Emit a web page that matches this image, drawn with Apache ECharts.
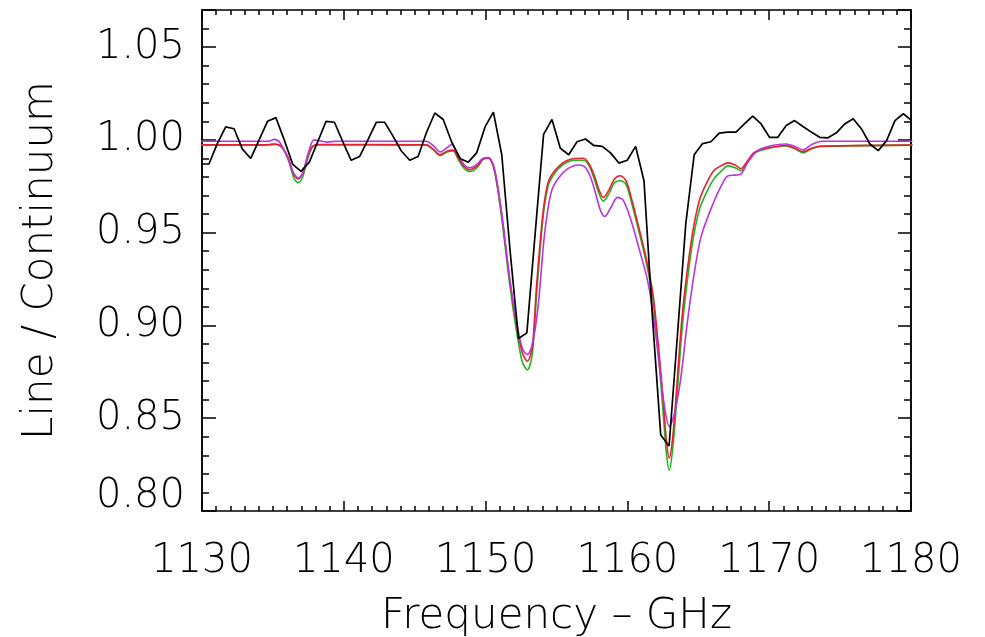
<!DOCTYPE html>
<html>
<head>
<meta charset="utf-8">
<script src="https://cdn.jsdelivr.net/npm/echarts@6/dist/echarts.min.js"></script>
<style>
  html, body { margin: 0; padding: 0; background: #fff; }
  #spectrum_chart { width: 985px; height: 637px; }
</style>
</head>
<body>
<div id="spectrum_chart"></div>
<script>
// x tick labels (GHz) and y tick labels
var xTicks = [1130, 1140, 1150, 1160, 1170, 1180]
var yTicks = [0.80, 0.85, 0.90, 0.95, 1.00, 1.05]

// observed spectrum (black)
var obsFreq = [1129.90, 1130.49, 1131.08, 1131.67, 1132.26, 1132.85, 1133.44, 1134.03, 1134.62, 1135.21,
    1135.80, 1136.39, 1136.98, 1137.57, 1138.16, 1138.75, 1139.34, 1139.93, 1140.52, 1141.11,
    1141.70, 1142.29, 1142.88, 1143.47, 1144.06, 1144.65, 1145.24, 1145.83, 1146.42, 1147.01,
    1147.60, 1148.19, 1148.78, 1149.37, 1149.96, 1150.55, 1151.14, 1151.73, 1152.32, 1152.91,
    1153.50, 1154.09, 1154.68, 1155.27, 1155.86, 1156.45, 1157.04, 1157.63, 1158.22, 1158.81,
    1159.40, 1159.99, 1160.58, 1161.17, 1161.76, 1162.35, 1162.94, 1163.53, 1164.12, 1164.71,
    1165.30, 1165.89, 1166.48, 1167.07, 1167.66, 1168.25, 1168.84, 1169.43, 1170.02, 1170.61,
    1171.20, 1171.79, 1172.38, 1172.97, 1173.56, 1174.15, 1174.74, 1175.33, 1175.92, 1176.51,
    1177.10, 1177.69, 1178.28, 1178.87, 1179.46, 1180.05]
var obsVal = [0.987, 0.987, 0.998, 1.007, 1.006, 0.995, 0.990, 1.000, 1.010, 1.012,
    1.000, 0.987, 0.983, 0.988, 0.999, 1.010, 1.0095, 0.999, 0.989, 0.991,
    1.000, 1.0095, 1.0095, 1.002, 0.994, 0.989, 0.991, 1.004, 1.0145, 1.011,
    0.999, 0.990, 0.988, 0.993, 1.007, 1.015, 0.992, 0.940, 0.893, 0.896,
    0.950, 1.003, 1.011, 0.9955, 0.992, 0.999, 1.0005, 0.997, 0.9965, 0.993,
    0.9875, 0.989, 0.9965, 0.978, 0.905, 0.841, 0.835, 0.895, 0.955, 0.992,
    0.998, 0.999, 1.0036, 1.0042, 1.0042, 1.0086, 1.0128, 1.0086, 1.0014, 1.0014,
    1.0077, 1.0104, 1.0072, 1.0042, 1.0014, 1.0011, 1.0038, 1.0086, 1.0114, 1.0059,
    0.9978, 0.9942, 0.9996, 1.0104, 1.0141, 1.0104]

// model 1 (red)
var redFreq = [1129.9, 1134.5, 1135.1, 1135.6, 1136.1, 1136.5, 1136.8, 1137.1, 1137.5, 1137.8,
    1138.2, 1145.8, 1146.3, 1146.8, 1147.3, 1147.7, 1148.1, 1148.5, 1148.9, 1149.4,
    1149.8, 1150.2, 1150.6, 1151.1, 1151.7, 1152.2, 1152.6, 1152.95, 1153.3, 1153.6,
    1154.05, 1154.4, 1154.7, 1155.2, 1155.7, 1156.3, 1156.9, 1157.3, 1157.7, 1158.0,
    1158.3, 1158.7, 1159.1, 1159.5, 1159.9, 1160.3, 1160.7, 1161.3, 1161.8, 1162.2,
    1162.5, 1162.75, 1162.95, 1163.2, 1163.5, 1163.8, 1164.1, 1164.6, 1165.1, 1165.6,
    1166.1, 1166.6, 1167.1, 1167.6, 1168.0, 1168.4, 1168.9, 1169.4, 1170.3, 1171.2,
    1171.8, 1172.4, 1173.0, 1173.6, 1180.1]
var redVal = [0.9973, 0.9973, 0.9978, 0.9965, 0.990, 0.981, 0.979, 0.982, 0.992, 0.9965,
    0.9975, 0.9973, 0.995, 0.992, 0.994, 0.9945, 0.990, 0.9855, 0.984, 0.986,
    0.9895, 0.9903, 0.985, 0.962, 0.925, 0.8996, 0.885, 0.8807, 0.889, 0.922,
    0.961, 0.977, 0.9816, 0.986, 0.9888, 0.990, 0.9901, 0.987, 0.980, 0.973,
    0.969, 0.973, 0.979, 0.9807, 0.978, 0.968, 0.956, 0.937, 0.917, 0.888,
    0.862, 0.838, 0.8285, 0.840, 0.869, 0.900, 0.922, 0.950, 0.968, 0.977,
    0.9835, 0.986, 0.9876, 0.9865, 0.9845, 0.988, 0.993, 0.9948, 0.9962, 0.997,
    0.9955, 0.9937, 0.9955, 0.9966, 0.9972]

// model 2 (green)
var greenFreq = redFreq
var greenVal = [0.9973, 0.9973, 0.9976, 0.9962, 0.989, 0.979, 0.977, 0.980, 0.991, 0.9962,
    0.9973, 0.9973, 0.9948, 0.9915, 0.9935, 0.994, 0.989, 0.9845, 0.983, 0.985,
    0.9893, 0.9901, 0.984, 0.960, 0.922, 0.896, 0.880, 0.876, 0.885, 0.917,
    0.958, 0.975, 0.980, 0.985, 0.9878, 0.989, 0.989, 0.986, 0.978, 0.971,
    0.967, 0.971, 0.977, 0.978, 0.976, 0.966, 0.954, 0.935, 0.914, 0.883,
    0.855, 0.831, 0.822, 0.834, 0.862, 0.893, 0.916, 0.945, 0.963, 0.972,
    0.979, 0.983, 0.986, 0.985, 0.9834, 0.987, 0.9925, 0.9943, 0.996, 0.9968,
    0.9952, 0.993, 0.9952, 0.9965, 0.9972]

// model 3 (magenta)
var magFreq = [1129.9, 1134.7, 1135.1, 1135.5, 1136.0, 1136.4, 1136.8, 1137.1, 1137.5, 1137.9,
    1138.3, 1138.8, 1139.5, 1145.8, 1146.3, 1146.8, 1147.3, 1147.6, 1148.0, 1148.5,
    1148.9, 1149.4, 1149.8, 1150.2, 1150.6, 1151.1, 1151.7, 1152.2, 1152.6, 1152.95,
    1153.3, 1153.7, 1154.1, 1154.4, 1154.7, 1155.2, 1155.8, 1156.5, 1157.0, 1157.4,
    1157.8, 1158.1, 1158.4, 1158.8, 1159.3, 1159.7, 1160.2, 1160.9, 1161.4, 1161.8,
    1162.2, 1162.6, 1162.95, 1163.3, 1163.75, 1164.2, 1164.65, 1165.2, 1166.06, 1166.6,
    1167.1, 1167.6, 1168.0, 1168.5, 1169.2, 1170.2, 1171.2, 1171.8, 1172.4, 1173.0,
    1173.7, 1180.1]
var magVal = [0.9993, 0.9993, 1.0003, 0.9985, 0.991, 0.983, 0.9795, 0.982, 0.993, 1.000,
    0.9995, 0.9988, 0.9993, 0.9993, 0.997, 0.9935, 0.996, 0.9975, 0.993, 0.9865,
    0.985, 0.987, 0.990, 0.9905, 0.985, 0.962, 0.925, 0.901, 0.8875, 0.8843,
    0.890, 0.910, 0.945, 0.963, 0.9735, 0.980, 0.9845, 0.9865, 0.9855, 0.980,
    0.970, 0.962, 0.9587, 0.963, 0.969, 0.9675, 0.958, 0.9393, 0.925, 0.907,
    0.882, 0.857, 0.8456, 0.852, 0.8708, 0.900, 0.925, 0.948, 0.966, 0.975,
    0.9807, 0.981, 0.9815, 0.988, 0.9943, 0.997, 0.9978, 0.9965, 0.9946, 0.9975,
    0.9993, 0.9993]

function zip(xs, ys) {
    return xs.map(function (x, i) { return [x, ys[i]] })
}

var labelFont = {
    fontFamily: 'DejaVu Sans',
    fontWeight: 200,
    color: '#000'
}

function getSpectrumChart() {
    var dom = document.getElementById('spectrum_chart')
    var instance = echarts.init(dom, null, {renderer: 'canvas'})

    var axisLine = {show: true, onZero: false, lineStyle: {color: '#000', width: 1.5}}

    let option = {
        animation: false,
        backgroundColor: '#fff',
        grid: {
            left: 202,
            right: 74,
            top: 10,
            bottom: 126,
            containLabel: false,
            outerBoundsMode: 'none'
        },
        xAxis: [
            {
                type: 'value',
                position: 'bottom',
                min: xTicks[0],
                max: xTicks[xTicks.length - 1],
                interval: 10,
                axisLine: axisLine,
                axisTick: {show: true, inside: true, length: 10, lineStyle: {color: '#000', width: 1.5}},
                minorTick: {show: true, splitNumber: 10, length: 5, lineStyle: {color: '#000', width: 1.5}},
                splitLine: {show: false},
                axisLabel: Object.assign({
                    fontSize: 40,
                    margin: 31,
                    formatter: function (v) { return String(v) }
                }, labelFont),
                name: 'Frequency – GHz',
                nameLocation: 'middle',
                nameGap: 85,
                nameTextStyle: Object.assign({fontSize: 42}, labelFont)
            },
            {
                type: 'value',
                position: 'top',
                min: xTicks[0],
                max: xTicks[xTicks.length - 1],
                interval: 10,
                axisLine: axisLine,
                axisTick: {show: true, inside: true, length: 10, lineStyle: {color: '#000', width: 1.5}},
                minorTick: {show: true, splitNumber: 10, length: 5, lineStyle: {color: '#000', width: 1.5}},
                splitLine: {show: false},
                axisLabel: {show: false}
            }
        ],
        yAxis: [
            {
                type: 'value',
                position: 'left',
                min: 0.80,
                max: 1.07,
                interval: 0.05,
                axisLine: axisLine,
                axisTick: {show: true, inside: true, length: 14, lineStyle: {color: '#000', width: 1.5}},
                splitLine: {show: false},
                axisLabel: Object.assign({
                    fontSize: 40,
                    margin: 17,
                    showMinLabel: true,
                    formatter: function (v) {
                        if (v > 1.06) return ''
                        if (v < 0.81) return '{m|' + v.toFixed(2) + '}'
                        return v.toFixed(2)
                    },
                    rich: {
                        m: Object.assign({fontSize: 40, padding: [0, 0, 28, 0]}, labelFont)
                    }
                }, labelFont),
                name: 'Line / Continuum',
                nameLocation: 'middle',
                nameGap: 140,
                nameTextStyle: Object.assign({fontSize: 42}, labelFont)
            },
            {
                type: 'value',
                position: 'left',
                min: 0.80,
                max: 1.07,
                interval: 0.01,
                axisLine: axisLine,
                axisTick: {show: true, inside: true, length: 7, lineStyle: {color: '#000', width: 1.5}},
                splitLine: {show: false},
                axisLabel: {show: false}
            },
            {
                type: 'value',
                position: 'right',
                min: 0.80,
                max: 1.07,
                interval: 0.05,
                axisLine: axisLine,
                axisTick: {show: true, inside: true, length: 13, lineStyle: {color: '#000', width: 1.5}},
                splitLine: {show: false},
                axisLabel: {show: false}
            },
            {
                type: 'value',
                position: 'right',
                min: 0.80,
                max: 1.07,
                interval: 0.01,
                axisLine: axisLine,
                axisTick: {show: true, inside: true, length: 7, lineStyle: {color: '#000', width: 1.5}},
                splitLine: {show: false},
                axisLabel: {show: false}
            }
        ],
        series: [
            {
                name: 'model 2',
                type: 'line',
                data: zip(greenFreq, greenVal),
                smooth: 0.3,
                showSymbol: false,
                clip: true,
                lineStyle: {color: '#22b422', width: 1.6}
            },
            {
                name: 'model 1',
                type: 'line',
                data: zip(redFreq, redVal),
                smooth: 0.3,
                showSymbol: false,
                clip: true,
                lineStyle: {color: '#e8202c', width: 1.6}
            },
            {
                name: 'model 3',
                type: 'line',
                data: zip(magFreq, magVal),
                smooth: 0.3,
                showSymbol: false,
                clip: true,
                lineStyle: {color: '#bb33dd', width: 1.6}
            },
            {
                name: 'observed',
                type: 'line',
                data: zip(obsFreq, obsVal),
                showSymbol: false,
                clip: true,
                lineStyle: {color: '#000', width: 1.7}
            }
        ]
    }

    instance.setOption(option)
}

getSpectrumChart()
</script>
</body>
</html>
